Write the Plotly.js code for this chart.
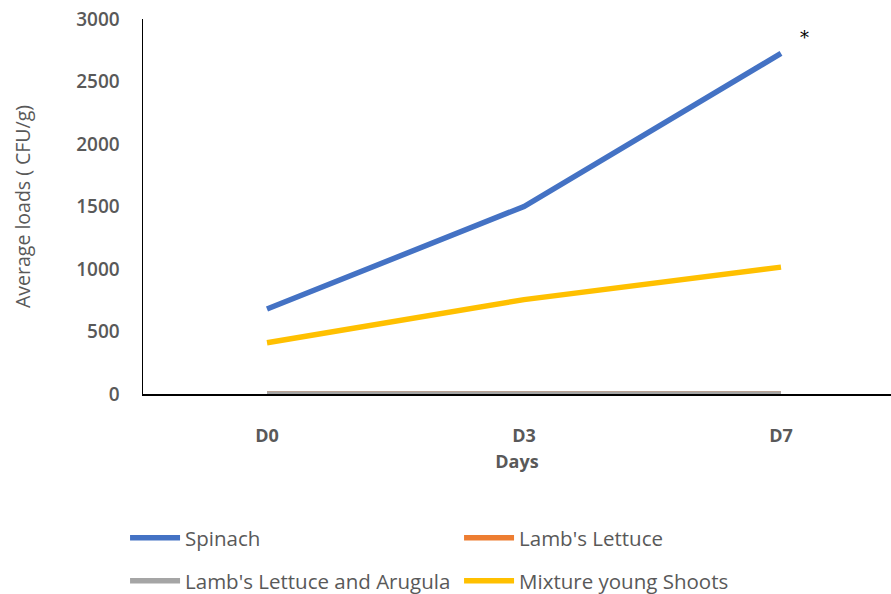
<!DOCTYPE html>
<html>
<head>
<meta charset="utf-8">
<script src="https://cdn.plot.ly/plotly-3.0.1.min.js"></script>
<style>html,body{margin:0;padding:0;background:#fff;}#chart{width:891px;height:594px;}</style>
</head>
<body>
<div id="chart"></div>
<script>
const days = ["D0", "D3", "D7"];
const spinach = [680, 1500, 2725];
const lambsLettuce = [0, 0, 0];
const lambsArugula = [0, 0, 0];
const mixture = [410, 755, 1015];
const seriesNames = ["Spinach", "Lamb's Lettuce", "Lamb's Lettuce and Arugula", "Mixture young Shoots"];
const seriesColors = ["#4472C4", "#ED7D31", "#A5A5A5", "#FFC000"];
const seriesLegend = ["legend", "legend", "legend2", "legend2"];
const yTicks = [0, 500, 1000, 1500, 2000, 2500, 3000];

const allValues = [spinach, lambsLettuce, lambsArugula, mixture];
const traces = allValues.map((vals, i) => ({
  x: days, y: vals, type: "scatter", mode: "lines", name: seriesNames[i],
  legend: seriesLegend[i],
  line: {color: seriesColors[i], width: 5.5}
}));

const gray = "#595959";
const legendBase = {
  orientation: "h", x: -0.024, xanchor: "left", yanchor: "middle",
  entrywidth: 269, entrywidthmode: "pixels", itemwidth: 50,
  font: {size: 20.5, color: gray}, bgcolor: "rgba(0,0,0,0)"
};
const layout = {
  width: 891, height: 594,
  margin: {l: 143, r: 0, t: 19, b: 200, autoexpand: false},
  paper_bgcolor: "#fff", plot_bgcolor: "#fff",
  font: {family: "Open Sans, sans-serif", color: gray, size: 16},
  showlegend: true,
  xaxis: {
    type: "category", range: [-0.4825, 2.428], showgrid: false, zeroline: false,
    showline: true, linecolor: "#000", linewidth: 1.5,
    ticks: "", ticklabelstandoff: 25,
    tickfont: {size: 18, color: gray, weight: 700},
    title: {text: "Days", font: {size: 18, color: gray, weight: 700}, standoff: 9}
  },
  yaxis: {
    range: [0, 3000], tickvals: yTicks, showgrid: false, zeroline: false,
    showline: true, linecolor: "#000", linewidth: 1.5, ticks: "",
    ticklabelstandoff: 18,
    tickfont: {size: 19, color: gray, weight: 600},
    title: {text: "Average loads ( CFU/g)", font: {size: 19.5, color: gray}, standoff: 40}
  },
  legend: Object.assign({}, legendBase, {y: -0.384}),
  legend2: Object.assign({}, legendBase, {y: -0.4987}),
  annotations: [{
    x: "D7", y: 2850, xref: "x", yref: "y", text: "*", showarrow: false,
    xshift: 23, font: {size: 18, color: "#000", family: "DejaVu Serif"}
  }]
};
Plotly.newPlot("chart", traces, layout, {displayModeBar: false, staticPlot: true});
</script>
</body>
</html>
